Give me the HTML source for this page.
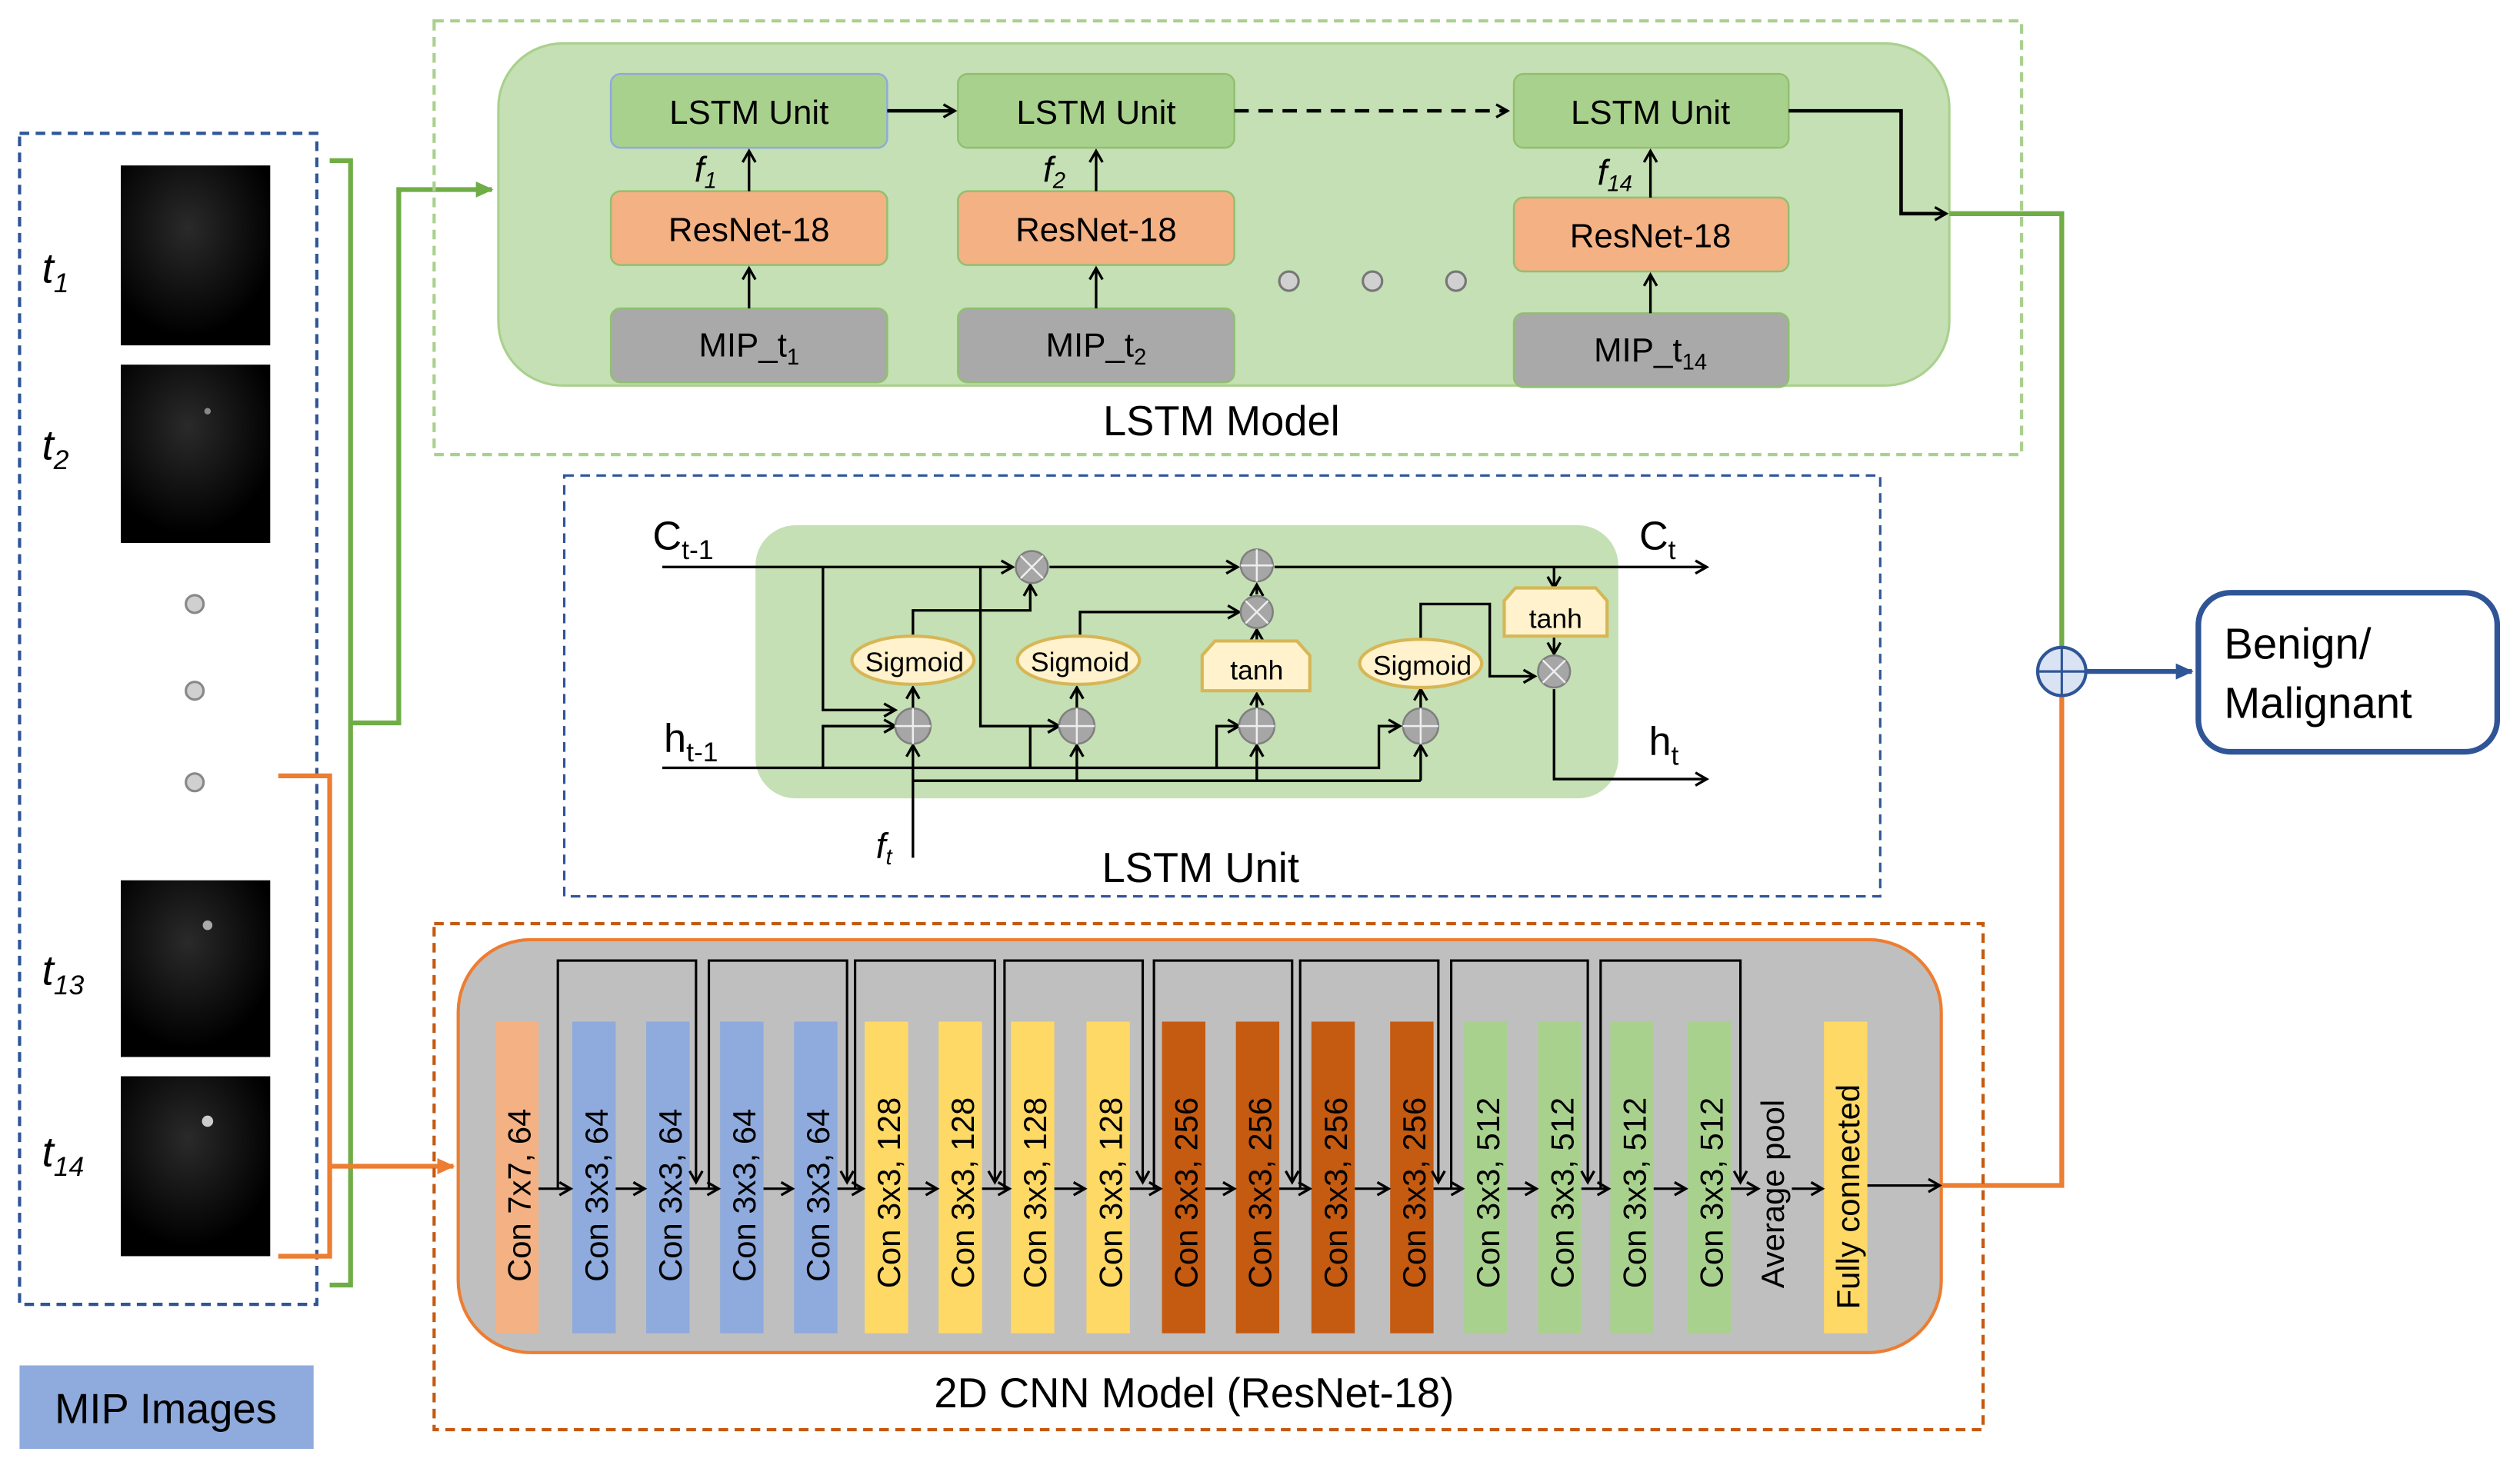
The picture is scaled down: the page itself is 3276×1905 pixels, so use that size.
<!DOCTYPE html>
<html><head><meta charset="utf-8"><style>
html,body{margin:0;padding:0;background:#fff;}
svg{display:block;}
text{font-family:"Liberation Sans",sans-serif;}
</style></head><body>
<svg width="3276" height="1905" viewBox="0 0 1568 912" xmlns="http://www.w3.org/2000/svg">
<defs>
<marker id="a" markerWidth="10" markerHeight="10" refX="8" refY="5" orient="auto" markerUnits="userSpaceOnUse"><path d="M1,1 L8,5 L1,9" fill="none" stroke="#000" stroke-width="1.6"/></marker>
<marker id="ag" markerWidth="12" markerHeight="12" refX="10" refY="6" orient="auto" markerUnits="userSpaceOnUse"><path d="M0,1 L11,6 L0,11 Z" fill="#70ad47"/></marker>
<marker id="ao" markerWidth="12" markerHeight="12" refX="10" refY="6" orient="auto" markerUnits="userSpaceOnUse"><path d="M0,1 L11,6 L0,11 Z" fill="#ed7d31"/></marker>
<marker id="ab" markerWidth="12" markerHeight="12" refX="10" refY="6" orient="auto" markerUnits="userSpaceOnUse"><path d="M0,1 L11,6 L0,11 Z" fill="#2f5597"/></marker>
<radialGradient id="cell" cx="0.45" cy="0.35" r="0.6"><stop offset="0" stop-color="#2a2a2a"/><stop offset="1" stop-color="#000"/></radialGradient>
</defs>

<!-- left MIP images box -->
<rect x="12" y="83" width="185" height="729" fill="none" stroke="#2f5597" stroke-width="2" stroke-dasharray="6,4"/>
<g fill="url(#cell)">
<rect x="75" y="103" width="93" height="112"/>
<rect x="75" y="227" width="93" height="111"/>
<rect x="75" y="548" width="93" height="110"/>
<rect x="75" y="670" width="93" height="112"/>
</g>
<circle cx="129" cy="256" r="2" fill="#888"/><circle cx="129" cy="576" r="3" fill="#aaa"/><circle cx="129" cy="698" r="3.5" fill="#ccc"/>
<g font-style="italic" font-size="26" fill="#000">
<text x="26" y="176">t<tspan font-size="17" dy="6">1</tspan></text>
<text x="26" y="286">t<tspan font-size="17" dy="6">2</tspan></text>
<text x="26" y="613">t<tspan font-size="17" dy="6">13</tspan></text>
<text x="26" y="726">t<tspan font-size="17" dy="6">14</tspan></text>
</g>
<g fill="#d0d0d0" stroke="#888" stroke-width="1.5">
<circle cx="121" cy="376" r="5.5"/><circle cx="121" cy="430" r="5.5"/><circle cx="121" cy="487" r="5.5"/>
</g>
<rect x="12" y="850" width="183" height="52" fill="#8faadc"/>
<text x="103" y="886" font-size="26" text-anchor="middle">MIP Images</text>

<!-- brackets -->
<path d="M205,100 H218 V800 H205" fill="none" stroke="#70ad47" stroke-width="3"/>
<path d="M218,450 H248 V118 H306" fill="none" stroke="#70ad47" stroke-width="3" marker-end="url(#ag)"/>
<path d="M173,483 H205 V782 H173" fill="none" stroke="#ed7d31" stroke-width="3"/>
<path d="M205,726 H282" fill="none" stroke="#ed7d31" stroke-width="3" marker-end="url(#ao)"/>

<!-- LSTM model -->
<rect x="270" y="13" width="988" height="270" fill="none" stroke="#a9d18e" stroke-width="2" stroke-dasharray="6,4"/>
<rect x="310" y="27" width="903" height="213" rx="40" fill="#c5e0b4" stroke="#a9d18e" stroke-width="1.5"/>
<text x="760" y="271" font-size="26" text-anchor="middle">LSTM Model</text>
<g stroke="#90c070" stroke-width="1.2">
<rect x="380" y="46" width="172" height="46" rx="6" fill="#a9d18e" stroke="#8faadc"/>
<rect x="596" y="46" width="172" height="46" rx="6" fill="#a9d18e"/>
<rect x="942" y="46" width="171" height="46" rx="6" fill="#a9d18e"/>
<rect x="380" y="119" width="172" height="46" rx="6" fill="#f4b183"/>
<rect x="596" y="119" width="172" height="46" rx="6" fill="#f4b183"/>
<rect x="942" y="123" width="171" height="46" rx="6" fill="#f4b183"/>
<rect x="380" y="192" width="172" height="46" rx="6" fill="#a9a9a9"/>
<rect x="596" y="192" width="172" height="46" rx="6" fill="#a9a9a9"/>
<rect x="942" y="195" width="171" height="46" rx="6" fill="#a9a9a9"/>
</g>
<g font-size="21" text-anchor="middle">
<text x="466" y="77">LSTM Unit</text><text x="682" y="77">LSTM Unit</text><text x="1027" y="77">LSTM Unit</text>
<text x="466" y="150">ResNet-18</text><text x="682" y="150">ResNet-18</text><text x="1027" y="154">ResNet-18</text>
<text x="466" y="222">MIP_t<tspan font-size="14" dy="5">1</tspan></text>
<text x="682" y="222">MIP_t<tspan font-size="14" dy="5">2</tspan></text>
<text x="1027" y="225">MIP_t<tspan font-size="14" dy="5">14</tspan></text>
</g>
<g font-family="Liberation Serif" font-style="italic" font-size="22">
<text x="432" y="113" font-family="Liberation Serif,serif">f<tspan font-size="14" dy="4">1</tspan></text>
<text x="649" y="113" font-family="Liberation Serif,serif">f<tspan font-size="14" dy="4">2</tspan></text>
<text x="994" y="115" font-family="Liberation Serif,serif">f<tspan font-size="14" dy="4">14</tspan></text>
</g>
<g stroke="#000" stroke-width="1.6" fill="none" marker-end="url(#a)">
<path d="M466,119 V94"/><path d="M682,119 V94"/><path d="M1027,123 V94"/>
<path d="M466,192 V167"/><path d="M682,192 V167"/><path d="M1027,195 V171"/>
</g>
<path d="M552,69 H594" stroke="#000" stroke-width="2.2" marker-end="url(#a)"/>
<path d="M768,69 H938" stroke="#000" stroke-width="2.2" stroke-dasharray="9,6" marker-end="url(#a)"/>
<path d="M1113,69 H1183 V133 H1211" fill="none" stroke="#000" stroke-width="2.2" marker-end="url(#a)"/>
<g fill="#d0d0d0" stroke="#777" stroke-width="1.5">
<circle cx="802" cy="175" r="6"/><circle cx="854" cy="175" r="6"/><circle cx="906" cy="175" r="6"/>
</g>

<!-- right connectors -->
<path d="M1213,133 H1283 V403" fill="none" stroke="#70ad47" stroke-width="3"/>
<path d="M1208,738 H1283 V433" fill="none" stroke="#ed7d31" stroke-width="3"/>
<ellipse cx="1283" cy="418" rx="15" ry="15" fill="#dae3f3" stroke="#2f5597" stroke-width="2"/>
<path d="M1268,418 H1298 M1283,403 V433" stroke="#2f5597" stroke-width="1.5"/>
<path d="M1298,418 H1364" stroke="#2f5597" stroke-width="3" marker-end="url(#ab)"/>
<rect x="1368" y="369" width="186" height="99" rx="20" fill="#fff" stroke="#2f5597" stroke-width="3.5"/>
<text x="1384" y="410" font-size="27">Benign/</text>
<text x="1384" y="447" font-size="27">Malignant</text>

<!-- LSTM unit detail -->
<rect x="351" y="296" width="819" height="262" fill="none" stroke="#2f5597" stroke-width="1.5" stroke-dasharray="6,4"/>
<rect x="470" y="327" width="537" height="170" rx="25" fill="#c5e0b4"/>
<text x="747" y="549" font-size="26" text-anchor="middle">LSTM Unit</text>
<text x="406" y="342" font-size="25">C<tspan font-size="17" dy="6">t-1</tspan></text>
<text x="1020" y="342" font-size="25">C<tspan font-size="17" dy="6">t</tspan></text>
<text x="413" y="468" font-size="25">h<tspan font-size="17" dy="6">t-1</tspan></text>
<text x="1026" y="470" font-size="25">h<tspan font-size="17" dy="6">t</tspan></text>
<text x="545" y="534" font-size="22" font-style="italic" font-family="Liberation Serif,serif">f<tspan font-size="14" dy="4">t</tspan></text>
<g stroke="#000" stroke-width="1.6" fill="none">
<path d="M412,353 H630" marker-end="url(#a)"/>
<path d="M653,353 H770" marker-end="url(#a)"/>
<path d="M793,353 H1062" marker-end="url(#a)"/>
<path d="M412,478 H858 V452 H871" marker-end="url(#a)"/>
<path d="M568,486 H884"/>
<path d="M670,486 V464" marker-end="url(#a)"/>
<path d="M782,486 V464" marker-end="url(#a)"/>
<path d="M884,486 V464" marker-end="url(#a)"/>
<path d="M568,534 V464" marker-end="url(#a)"/>
<path d="M512,353 V442 H557" marker-end="url(#a)"/>
<path d="M512,478 V452 H557" marker-end="url(#a)"/>
<path d="M610,353 V452 H659" marker-end="url(#a)"/>
<path d="M641,478 V452 H659" marker-end="url(#a)"/>
<path d="M757,478 V452 H771" marker-end="url(#a)"/>
<path d="M568,441 V428" marker-end="url(#a)"/>
<path d="M670,441 V428" marker-end="url(#a)"/>
<path d="M782,441 V432" marker-end="url(#a)"/>
<path d="M884,441 V429" marker-end="url(#a)"/>
<path d="M568,396 V380 H641 V364" marker-end="url(#a)"/>
<path d="M672,396 V381 H771" marker-end="url(#a)"/>
<path d="M782,399 V392" marker-end="url(#a)"/>
<path d="M782,370 V364" marker-end="url(#a)"/>
<path d="M884,398 V376 H927 V421 H955" marker-end="url(#a)"/>
<path d="M967,353 V366" marker-end="url(#a)"/>
<path d="M967,396 V407" marker-end="url(#a)"/>
<path d="M967,429 V485 H1062" marker-end="url(#a)"/>
</g>
<g fill="#a6a6a6" stroke="#7f7f7f" stroke-width="1.2">
<circle cx="642" cy="353" r="10"/><circle cx="782" cy="352" r="10"/><circle cx="782" cy="381" r="10"/><circle cx="967" cy="418" r="10"/>
<circle cx="568" cy="452" r="11"/><circle cx="670" cy="452" r="11"/><circle cx="782" cy="452" r="11"/><circle cx="884" cy="452" r="11"/>
</g>
<g stroke="#eee" stroke-width="1.2">
<path d="M635,346 L649,360 M649,346 L635,360"/><path d="M772,352 H792 M782,342 V362"/><path d="M775,374 L789,388 M789,374 L775,388"/><path d="M960,411 L974,425 M974,411 L960,425"/>
<path d="M557,452 H579 M568,441 V463"/><path d="M659,452 H681 M670,441 V463"/><path d="M771,452 H793 M782,441 V463"/><path d="M873,452 H895 M884,441 V463"/>
</g>
<g fill="#fff2cc" stroke="#d6b656" stroke-width="2">
<ellipse cx="568" cy="411" rx="38" ry="15"/><ellipse cx="671" cy="411" rx="38" ry="15"/><ellipse cx="884" cy="413" rx="38" ry="15"/>
<path d="M756,399 H807 L815,408 V430 H748 V408 Z"/>
<path d="M943,366 H993 L1000,374 V396 H936 V374 Z"/>
</g>
<g font-size="17" text-anchor="middle">
<text x="569" y="418">Sigmoid</text><text x="672" y="418">Sigmoid</text><text x="885" y="420">Sigmoid</text>
<text x="782" y="423">tanh</text><text x="968" y="391">tanh</text>
</g>

<!-- CNN -->
<rect x="270" y="575" width="964" height="315" fill="none" stroke="#c55a11" stroke-width="2" stroke-dasharray="6,4"/>
<rect x="285" y="585" width="923" height="257" rx="45" fill="#bfbfbf" stroke="#ed7d31" stroke-width="2"/>
<text x="743" y="876" font-size="26" text-anchor="middle">2D CNN Model (ResNet-18)</text>
<g>
<rect x="308" y="636" width="27" height="194" fill="#f4b183"/>
<rect x="356" y="636" width="27" height="194" fill="#8faadc"/>
<rect x="402" y="636" width="27" height="194" fill="#8faadc"/>
<rect x="448" y="636" width="27" height="194" fill="#8faadc"/>
<rect x="494" y="636" width="27" height="194" fill="#8faadc"/>
<rect x="538" y="636" width="27" height="194" fill="#ffd966"/>
<rect x="584" y="636" width="27" height="194" fill="#ffd966"/>
<rect x="629" y="636" width="27" height="194" fill="#ffd966"/>
<rect x="676" y="636" width="27" height="194" fill="#ffd966"/>
<rect x="723" y="636" width="27" height="194" fill="#c55a11"/>
<rect x="769" y="636" width="27" height="194" fill="#c55a11"/>
<rect x="816" y="636" width="27" height="194" fill="#c55a11"/>
<rect x="865" y="636" width="27" height="194" fill="#c55a11"/>
<rect x="911" y="636" width="27" height="194" fill="#a9d18e"/>
<rect x="957" y="636" width="27" height="194" fill="#a9d18e"/>
<rect x="1002" y="636" width="27" height="194" fill="#a9d18e"/>
<rect x="1050" y="636" width="27" height="194" fill="#a9d18e"/>
<rect x="1135" y="636" width="27" height="194" fill="#ffd966"/>
</g>
<g font-size="20" font-family="DejaVu Sans,sans-serif">
<text transform="translate(330,798) rotate(-90)" font-family="DejaVu Sans,sans-serif">Con 7x7, 64</text>
<text transform="translate(378,798) rotate(-90)" font-family="DejaVu Sans,sans-serif">Con 3x3, 64</text>
<text transform="translate(424,798) rotate(-90)" font-family="DejaVu Sans,sans-serif">Con 3x3, 64</text>
<text transform="translate(470,798) rotate(-90)" font-family="DejaVu Sans,sans-serif">Con 3x3, 64</text>
<text transform="translate(516,798) rotate(-90)" font-family="DejaVu Sans,sans-serif">Con 3x3, 64</text>
<text transform="translate(560,802) rotate(-90)" font-family="DejaVu Sans,sans-serif">Con 3x3, 128</text>
<text transform="translate(606,802) rotate(-90)" font-family="DejaVu Sans,sans-serif">Con 3x3, 128</text>
<text transform="translate(651,802) rotate(-90)" font-family="DejaVu Sans,sans-serif">Con 3x3, 128</text>
<text transform="translate(698,802) rotate(-90)" font-family="DejaVu Sans,sans-serif">Con 3x3, 128</text>
<text transform="translate(745,802) rotate(-90)" font-family="DejaVu Sans,sans-serif">Con 3x3, 256</text>
<text transform="translate(791,802) rotate(-90)" font-family="DejaVu Sans,sans-serif">Con 3x3, 256</text>
<text transform="translate(838,802) rotate(-90)" font-family="DejaVu Sans,sans-serif">Con 3x3, 256</text>
<text transform="translate(887,802) rotate(-90)" font-family="DejaVu Sans,sans-serif">Con 3x3, 256</text>
<text transform="translate(933,802) rotate(-90)" font-family="DejaVu Sans,sans-serif">Con 3x3, 512</text>
<text transform="translate(979,802) rotate(-90)" font-family="DejaVu Sans,sans-serif">Con 3x3, 512</text>
<text transform="translate(1024,802) rotate(-90)" font-family="DejaVu Sans,sans-serif">Con 3x3, 512</text>
<text transform="translate(1072,802) rotate(-90)" font-family="DejaVu Sans,sans-serif">Con 3x3, 512</text>
<text transform="translate(1110,802) rotate(-90)" font-family="DejaVu Sans,sans-serif">Average pool</text>
<text transform="translate(1157,815) rotate(-90)" font-family="DejaVu Sans,sans-serif">Fully connected</text>
</g>
<g stroke="#000" stroke-width="1.5" fill="none">
<path d="M347,740 V598 H433 V736" marker-end="url(#a)"/>
<path d="M441,740 V598 H527 V736" marker-end="url(#a)"/>
<path d="M532,740 V598 H619 V736" marker-end="url(#a)"/>
<path d="M625,740 V598 H711 V736" marker-end="url(#a)"/>
<path d="M718,740 V598 H804 V736" marker-end="url(#a)"/>
<path d="M809,740 V598 H895 V736" marker-end="url(#a)"/>
<path d="M903,740 V598 H988 V736" marker-end="url(#a)"/>
<path d="M996,740 V598 H1083 V736" marker-end="url(#a)"/>
</g>
<g stroke="#000" stroke-width="1.5" fill="none" marker-end="url(#a)">
<path d="M335,740 H355"/><path d="M383,740 H401"/><path d="M429,740 H447"/><path d="M475,740 H493"/><path d="M521,740 H537"/>
<path d="M565,740 H583"/><path d="M611,740 H628"/><path d="M656,740 H675"/><path d="M703,740 H722"/>
<path d="M750,740 H768"/><path d="M796,740 H815"/><path d="M843,740 H864"/><path d="M892,740 H910"/>
<path d="M938,740 H956"/><path d="M984,740 H1001"/><path d="M1029,740 H1049"/><path d="M1077,740 H1094"/>
<path d="M1115,740 H1134"/><path d="M1162,738 H1207"/>
</g>
</svg>
</body></html>
